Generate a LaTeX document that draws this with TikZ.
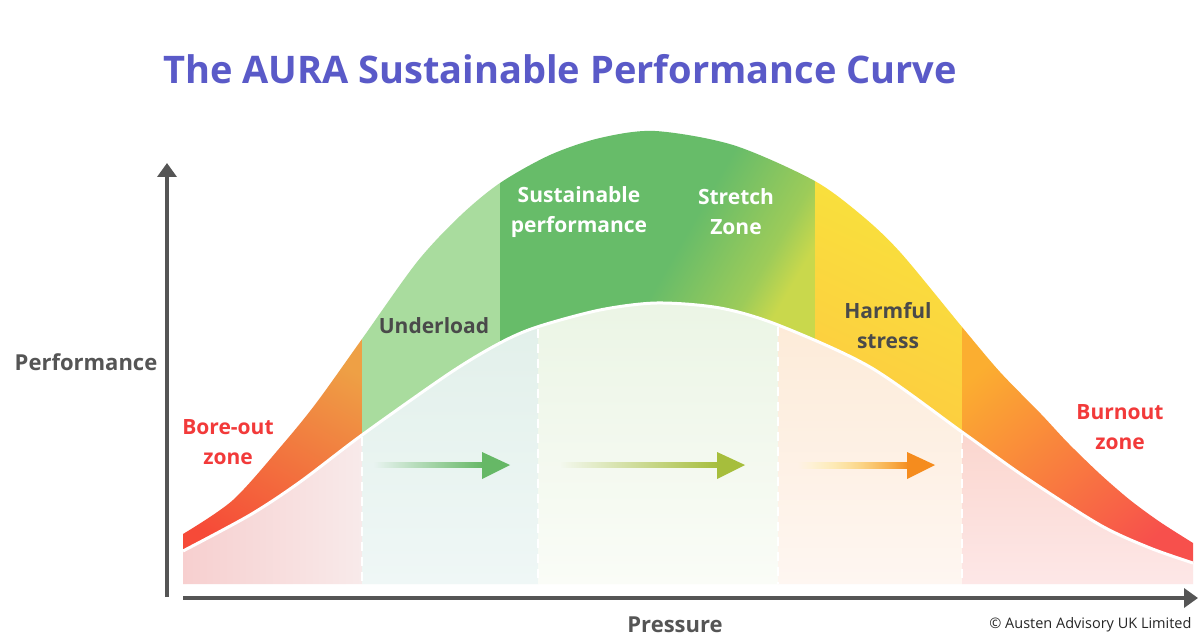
\documentclass[tikz,border=0pt]{standalone}
\usepackage{fontspec}
\setmainfont{Open Sans}
\usetikzlibrary{fadings,arrows.meta}
\definecolor{titlec}{HTML}{5A5AC8}
\definecolor{labgray}{HTML}{4A4A4A}
\definecolor{axisc}{HTML}{555555}
\definecolor{zred}{HTML}{F23A3A}
\definecolor{cOrA}{HTML}{EEA045}
\definecolor{cRedA}{HTML}{F64A38}
\definecolor{cLG}{HTML}{A9DC9E}
\definecolor{cG}{HTML}{67BC69}
\definecolor{cYG}{HTML}{C9D84C}
\definecolor{cYel}{HTML}{F8E33C}
\definecolor{cYelO}{HTML}{FDCB40}
\definecolor{cOrE}{HTML}{FBAE30}
\definecolor{cOrM}{HTML}{FD8A3A}
\definecolor{cRedE}{HTML}{F7504C}
\definecolor{arG}{HTML}{66B866}
\definecolor{arYG}{HTML}{A6BE3C}
\definecolor{arO}{HTML}{F58C1E}
\definecolor{lAt}{HTML}{F7CFCF}
\definecolor{lAb}{HTML}{F8EAEA}
\definecolor{lBt}{HTML}{E2F0EA}
\definecolor{lBb}{HTML}{EFF7F6}
\definecolor{lCt}{HTML}{EBF5E5}
\definecolor{lCb}{HTML}{FAFCF7}
\definecolor{lDt}{HTML}{FDEBD8}
\definecolor{lDb}{HTML}{FEF6F1}
\definecolor{lEt}{HTML}{FBD6CE}
\definecolor{lEb}{HTML}{FDE7E7}
\colorlet{cMidG}{cYG!55!cG}
\tikzfading[name=fadeR, left color=transparent!100, middle color=transparent!15, right color=transparent!0]
\pgfdeclareverticalshading{zoneC}{100bp}{color(0bp)=(cYG); color(25bp)=(cYG); color(31bp)=(cMidG); color(46bp)=(cG); color(100bp)=(cG)}
\tikzset{
  zonelabel/.style={font=\bfseries\fontsize{21}{30}\selectfont, align=center},
  axislabel/.style={font=\bfseries\fontsize{22}{26}\selectfont, text=axisc},
  axisline/.style={draw=axisc, line width=4pt, -{Triangle[width=19pt,length=14pt]}},
  divider/.style={white, line width=2.2pt, dash pattern=on 9pt off 6pt},
}
\begin{document}
\begin{tikzpicture}[x=1pt,y=-1pt]
\useasboundingbox (0,0) rectangle (1200,644);
\fill[white] (0,0) rectangle (1200,644);

% ---- band between outer and inner curves
\begin{scope}
\clip plot[smooth] coordinates {(183,534) (233,500) (283,444) (317,402) (362,339) (417,262) (460,216) (500,183) (550,155) (600,138) (655,131) (733,145) (813,180) (860,214) (900,252) (962,327) (1000,372) (1041,414) (1068,443) (1100,474) (1130,500) (1160,522) (1193,543)}
  -- plot[smooth] coordinates {(1193,563) (1150,548) (1100,525) (1025,477) (962,432) (870,367) (778,325) (720,308) (657,303) (600,310) (537,327) (500,343) (450,373) (362,435) (300,482) (250,515) (183,551)} -- cycle;
\shade[top color=cOrA, bottom color=cRedA, shading angle=-30] (183,330) rectangle (362,565);
\fill[cLG] (362,170) rectangle (500,450);
\shade[shading=zoneC, shading angle=60] (500,125) rectangle (815,350);
\shade[top color=cYel, bottom color=cYelO, shading angle=-25] (815,170) rectangle (962,440);
\shade[top color=cOrE, middle color=cOrM, bottom color=cRedE, shading angle=40] (962,320) rectangle (1193,570);
\end{scope}

% ---- lower area under inner curve
\begin{scope}
\clip plot[smooth] coordinates {(183,551) (250,515) (300,482) (362,435) (450,373) (500,343) (537,327) (600,310) (657,303) (720,308) (778,325) (870,367) (962,432) (1025,477) (1100,525) (1150,548) (1193,563)} -- (1193,584) -- (183,584) -- cycle;
\shade[left color=lAt, right color=lAb] (183,430) rectangle (362,584);
\shade[top color=lBt, bottom color=lBb] (362,320) rectangle (538,584);
\shade[top color=lCt, bottom color=lCb] (538,300) rectangle (778,584);
\shade[top color=lDt, bottom color=lDb] (778,320) rectangle (962,584);
\shade[top color=lEt, bottom color=lEb] (962,430) rectangle (1193,584);
\end{scope}

\draw[white, line width=3pt] plot[smooth] coordinates {(183,551) (250,515) (300,482) (362,435) (450,373) (500,343) (537,327) (600,310) (657,303) (720,308) (778,325) (870,367) (962,432) (1025,477) (1100,525) (1150,548) (1193,563)};

% ---- dashed dividers
\coordinate (d1t) at (362,437); \coordinate (d1b) at (362,584);
\coordinate (d2t) at (538,329); \coordinate (d2b) at (538,584);
\coordinate (d3t) at (778,327); \coordinate (d3b) at (778,584);
\coordinate (d4t) at (962,434); \coordinate (d4b) at (962,584);
\draw[divider] (d1t) -- (d1b);
\draw[divider] (d2t) -- (d2b);
\draw[divider] (d3t) -- (d3b);
\draw[divider] (d4t) -- (d4b);

% ---- progress arrows
\coordinate (a1s) at (374,465); \coordinate (a1e) at (510,465);
\coordinate (a2s) at (560,465); \coordinate (a2e) at (745,465);
\coordinate (a3s) at (798,465); \coordinate (a3e) at (935,465);
\fill[arG, path fading=fadeR] (374,462) rectangle (483,468);
\fill[arG] (482,452) -- (a1e) -- (482,479) -- cycle;
\fill[arYG, path fading=fadeR] (560,462) rectangle (719,468);
\fill[arYG] (717,452) -- (a2e) -- (717,479) -- cycle;
\shade[left color=yellow!60!white, right color=arO, path fading=fadeR] (798,462) rectangle (909,468);
\fill[arO] (907,452) -- (a3e) -- (907,479) -- cycle;

% ---- axes
\coordinate (yo) at (167,597); \coordinate (yt) at (167,163);
\coordinate (xo) at (183,598); \coordinate (xt) at (1198,598);
\draw[axisline] (yo) -- (yt);
\draw[axisline] (xo) -- (xt);

% ---- texts
\node[font=\bfseries\fontsize{38}{42}\selectfont, text=titlec] (title) at (560,69) {The AURA Sustainable Performance Curve};
\node[zonelabel, text=white] (lblSust) at (579,212) {Sustainable\\performance};
\node[zonelabel, text=white] (lblStretch) at (736,212) {Stretch\\Zone};
\node[zonelabel, text=labgray] (lblUnder) at (434,326) {Underload};
\node[zonelabel, text=labgray] (lblHarm) at (888,326) {Harmful\\stress};
\node[zonelabel, text=zred] (lblBore) at (228,442) {Bore-out\\zone};
\node[zonelabel, text=zred] (lblBurn) at (1120,427) {Burnout\\zone};
\node[axislabel] (lblPerf) at (86,362) {Performance};
\node[axislabel] (lblPress) at (675,625) {Pressure};
\node[font=\fontsize{14.5}{16}\selectfont, text=black!85, anchor=east] (copy) at (1195,625) {© Austen Advisory UK Limited};
\end{tikzpicture}
\end{document}
